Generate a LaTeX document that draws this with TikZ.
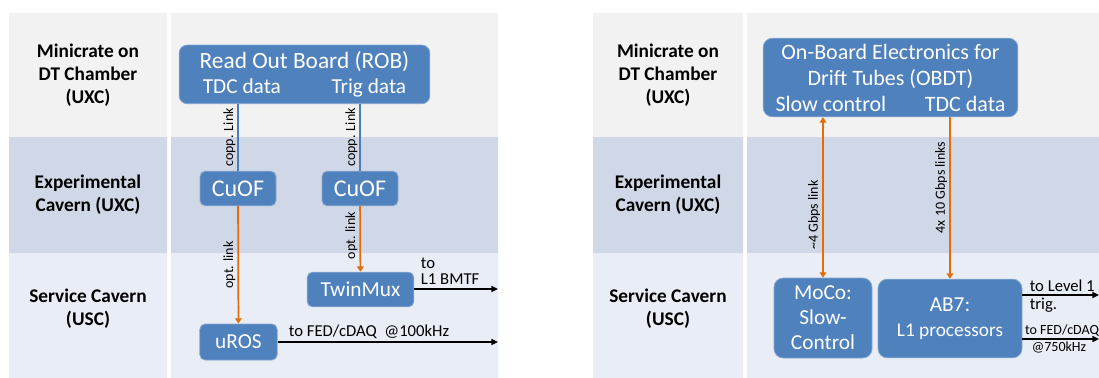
\documentclass[tikz,border=0pt]{standalone}
\usepackage{fontspec}
\setmainfont{Carlito}
\usetikzlibrary{arrows.meta, positioning}
\definecolor{rowtop}{HTML}{F2F2F2}
\definecolor{rowmid}{HTML}{D0D8E7}
\definecolor{rowlow}{HTML}{E9EDF5}
\definecolor{boxblue}{HTML}{4F81BD}
\definecolor{optorange}{HTML}{E46C0A}
\definecolor{copperblue}{HTML}{4A7EBB}
\tikzstyle{board} = [draw=boxblue!70!white, line width=0.6pt, fill=boxblue, text=white, rounded corners=4pt, inner sep=0pt, align=center, font=\fontsize{16}{18.75}\selectfont]
\tikzstyle{rowtitle} = [align=center, font=\bfseries\fontsize{14.5}{17.25}\selectfont]
\tikzstyle{copplink} = [draw=copperblue, line width=1.1pt]
\tikzstyle{optlink} = [draw=optorange, line width=1.3pt, -{Triangle[width=5pt,length=4pt]}]
\tikzstyle{optboth} = [draw=optorange, line width=1.3pt, {Triangle[width=5pt,length=4pt]}-{Triangle[width=5pt,length=4pt]}]
\tikzstyle{outlink} = [draw=black, line width=1.1pt, -{Triangle[width=4.5pt,length=5pt]}]
\tikzstyle{linklabel} = [rotate=90, anchor=south, inner sep=1.5pt, font=\fontsize{10.5}{12}\selectfont]
\tikzstyle{outlabel} = [inner sep=1.5pt, align=left, font=\fontsize{12.5}{12}\selectfont]
\tikzstyle{outsmall} = [inner sep=1.5pt, font=\fontsize{10.5}{12}\selectfont]

\begin{document}
\begin{tikzpicture}[x=0.75pt, y=0.75pt]
	\useasboundingbox (0,0) rectangle (1099,-378);
	\foreach \xa/\xb/\xc/\xd in {9/167/171/498, 593/743/747/1099}{
		\fill[rowtop] (\xa,-13) rectangle (\xb,-137) (\xc,-13) rectangle (\xd,-137);
		\fill[rowmid] (\xa,-137) rectangle (\xb,-253) (\xc,-137) rectangle (\xd,-253);
		\fill[rowlow] (\xa,-253) rectangle (\xb,-378) (\xc,-253) rectangle (\xd,-378);
	}

	\node[rowtitle] (minicrateL) at (88,-75) {Minicrate on\\DT Chamber\\(UXC)};
	\node[rowtitle] (cavernL) at (88,-195) {Experimental\\Cavern (UXC)};
	\node[rowtitle] (serviceL) at (88,-309) {Service Cavern\\(USC)};
	\node[rowtitle] (minicrateR) at (668,-75) {Minicrate on\\DT Chamber\\(UXC)};
	\node[rowtitle] (cavernR) at (668,-195) {Experimental\\Cavern (UXC)};
	\node[rowtitle] (serviceR) at (668,-309) {Service Cavern\\(USC)};

	\node[board, minimum width=188pt, minimum height=44pt, rounded corners=6pt] (rob) at (304.5,-74.4) {{\fontsize{17.5}{20}\selectfont Read Out Board (ROB)}\\TDC data\hspace{38pt}Trig data};
	\node[board, minimum width=57pt, minimum height=26pt, font=\fontsize{18}{20}\selectfont] (cuofA) at (238,-188.5) {CuOF};
	\node[board, minimum width=57pt, minimum height=26pt, font=\fontsize{18}{20}\selectfont] (cuofB) at (360,-188.5) {CuOF};
	\node[board, minimum width=80pt, minimum height=26pt] (twinmux) at (360.5,-289.5) {TwinMux};
	\node[board, minimum width=58pt, minimum height=27pt] (uros) at (238.5,-342) {uROS};

	\node[board, minimum width=191pt, minimum height=59pt, rounded corners=7pt, font=\fontsize{16.5}{19.5}\selectfont] (obdt) at (890.5,-77.5) {On-Board Electronics for\\Drift Tubes (OBDT)\\Slow control\hspace{29pt}TDC data};
	\node[board, minimum width=73.5pt, minimum height=60pt, rounded corners=7pt] (moco) at (823,-318) {MoCo:\\Slow-\\Control};
	\node[board, minimum width=108pt, minimum height=59pt, rounded corners=7pt] (ab7) at (950,-318.5) {AB7:\\{\fontsize{14.5}{18}\selectfont L1 processors}};

	\coordinate (bmtf) at (498,-289);
	\coordinate (fedL) at (498,-342);
	\coordinate (level1) at (1099,-295);
	\coordinate (fedR) at (1099,-339);

	\draw[copplink] (rob.south -| cuofA) -- (cuofA) node[midway, linklabel] {copp. Link};
	\draw[copplink] (rob.south -| cuofB) -- (cuofB) node[midway, linklabel] {copp. Link};
	\draw[optlink] (cuofA) -- (uros) node[midway, linklabel] {opt. link};
	\draw[optlink] (cuofB) -- (twinmux) node[pos=0.45, linklabel] {opt. link};
	\draw[outlink] (twinmux.east |- bmtf) -- (bmtf) node[pos=0, outlabel, anchor=south west, xshift=3pt, yshift=1pt] {to\\L1 BMTF};
	\draw[outlink] (uros.east |- fedL) -- (fedL) node[pos=0, outlabel, anchor=base west, xshift=6.5pt, yshift=4.5pt] {to FED/cDAQ\ \ @100kHz};

	\draw[optboth] (obdt.south -| moco) -- (moco) node[pos=0.61, linklabel] {\textasciitilde4 Gbps link};
	\draw[optlink] (obdt.south -| ab7) -- (ab7) node[pos=0.435, linklabel] {4x 10 Gbps links};
	\draw[outlink] (ab7.east |- level1) -- (level1) node[pos=0, outlabel, anchor=base west, xshift=3.5pt, yshift=2.5pt] {to Level 1} node[pos=0, outlabel, anchor=north west, xshift=3.5pt] {trig.};
	\draw[outlink] (ab7.east |- fedR) -- (fedR) node[pos=0, outsmall, anchor=south west, xshift=0pt] {to FED/cDAQ} node[pos=0, outsmall, anchor=north west, xshift=5pt] {@750kHz};
\end{tikzpicture}
\end{document}
